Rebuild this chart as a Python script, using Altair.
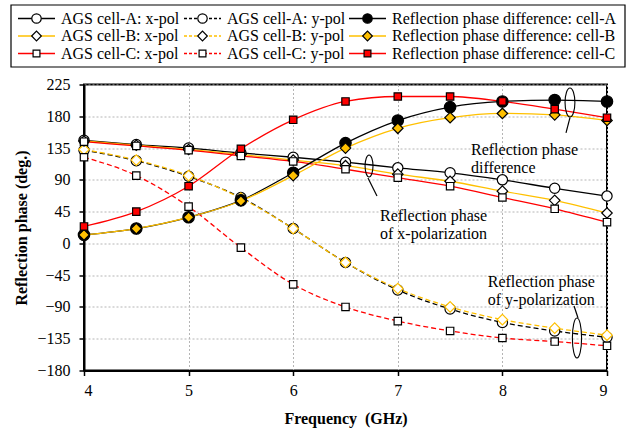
import altair as alt
import pandas as pd

FONT = "'Liberation Serif', 'Times New Roman', 'DejaVu Serif', serif"

# ---------------- data ----------------
freq = [4, 4.5, 5, 5.5, 6, 6.5, 7, 7.5, 8, 8.5, 9]

a_x = [146, 140, 135, 128, 122, 115, 107, 100, 90, 78, 67]
b_x = [145, 139, 133, 126, 118, 110, 98, 88, 74, 61, 43]
c_x = [144, 138, 132, 124, 116, 105, 93, 81, 65, 49, 30]

a_y = [132, 117, 95, 65, 21, -27, -66, -93, -112, -124, -133]
b_y = [133, 118, 96, 64, 21, -27, -64, -90, -108, -120, -130]
c_y = [122, 96, 52, -6, -58, -90, -110, -124, -134, -139, -145]

d_a = [12, 21, 37, 61, 100, 142, 174, 193, 201, 203, 201]
d_b = [12, 21, 37, 60, 96, 135, 163, 178, 184, 182, 174]
d_c = [24, 45, 81, 134, 175, 201, 208, 208, 201, 190, 178]

labels = [
    "AGS cell-A: x-pol", "AGS cell-A: y-pol", "Reflection phase difference: cell-A",
    "AGS cell-B: x-pol", "AGS cell-B: y-pol", "Reflection phase difference: cell-B",
    "AGS cell-C: x-pol", "AGS cell-C: y-pol", "Reflection phase difference: cell-C",
]
values = [a_x, a_y, d_a, b_x, b_y, d_b, c_x, c_y, d_c]

ORANGE = "#FFC000"
RED = "#FF0000"
line_colors = ["black", "black", "black", ORANGE, ORANGE, ORANGE, RED, RED, RED]
dashed = [False, True, False, False, True, False, False, True, False]
shapes = ["circle", "circle", "circle", "diamond", "diamond", "diamond", "square", "square", "square"]
fills = ["white", "white", "black", "white", "white", ORANGE, "white", "white", RED]
strokes = ["black", "black", "black", "black", ORANGE, "black", "black", "black", "black"]
legend_strokes = ["black"] * 9
sizes = {"circle": 105, "diamond": 110, "square": 55}

# annotations
ann_text = ["Reflection phase\ndifference", "Reflection phase\nof x-polarization", "Reflection phase\nof y-polarization"]
ann_tx = [7.70, 6.83, 7.86]
ann_ty = [132, 39, -55]

ell_x = [8.646, 6.725, 8.713]
ell_y = [199.5, 109.6, -134]
ell_h = [29, 22, 40]
ell_ratio = [0.34, 0.36, 0.23]

lead_x = [8.646, 6.715, 8.723]
lead_y = [178, 92.6, -105.7]
lead_x2 = [8.608, 6.801, 8.685]
lead_y2 = [156.4, 67.1, -88.7]

# ---------------- scales ----------------
W, H = 523, 286
xscale = alt.Scale(domain=[4, 9], nice=False, zero=False)
yscale = alt.Scale(domain=[-180, 225], nice=False, zero=False)

x_axis = alt.Axis(values=[4, 5, 6, 7, 8, 9], title="Frequency\u00a0\u00a0(GHz)", titlePadding=12,
                  labelPadding=7)
y_axis = alt.Axis(values=list(range(-180, 226, 45)), title="Reflection phase (deg.)",
                  titlePadding=7, labelPadding=9)


def X(field):
    return alt.X(field, scale=xscale, axis=x_axis)


def Y(field):
    return alt.Y(field, scale=yscale, axis=y_axis)


layers = []
order = [1, 4, 7, 0, 3, 6, 2, 5, 8]  # dashed first, then solid
for i in order:
    df = pd.DataFrame({"freq": freq, "deg": values[i]})
    mk = dict(color=line_colors[i], strokeWidth=1.3, interpolate="monotone")
    if dashed[i]:
        mk["strokeDash"] = [5, 3]
    layers.append(alt.Chart(df).mark_line(**mk).encode(x=X("freq:Q"), y=Y("deg:Q")))

for i in order:
    df = pd.DataFrame({"freq": freq, "deg": values[i]})
    sz = sizes[shapes[i]] + (25 if fills[i] == "black" else 0)
    layers.append(
        alt.Chart(df).mark_point(
            shape=shapes[i], filled=True, fill=fills[i], stroke=strokes[i],
            strokeWidth=1.2, size=sz, opacity=1,
        ).encode(x=X("freq:Q"), y=Y("deg:Q"))
    )


# annotation ellipses
def ellipse_path(r):
    k = 0.5523 * r
    return (f"M0,-1 C{k:.3f},-1 {r:.3f},-0.5523 {r:.3f},0 "
            f"C{r:.3f},0.5523 {k:.3f},1 0,1 "
            f"C{-k:.3f},1 {-r:.3f},0.5523 {-r:.3f},0 "
            f"C{-r:.3f},-0.5523 {-k:.3f},-1 0,-1 Z")


ell_df = pd.DataFrame({
    "freq": ell_x, "deg": ell_y,
    "path": [ellipse_path(r) for r in ell_ratio],
    "size": [h * h for h in ell_h],
})
layers.append(
    alt.Chart(ell_df).mark_point(filled=False, stroke="black", strokeWidth=1.1, opacity=1).encode(
        x=X("freq:Q"), y=Y("deg:Q"),
        shape=alt.Shape("path:N", scale=None), size=alt.Size("size:Q", scale=None),
    )
)
lead_df = pd.DataFrame({"freq": lead_x, "deg": lead_y, "freq2": lead_x2, "deg2": lead_y2})
layers.append(
    alt.Chart(lead_df).mark_rule(color="black", strokeWidth=1.2).encode(
        x=X("freq:Q"), y=Y("deg:Q"), x2="freq2:Q", y2="deg2:Q",
    )
)
ann_df = pd.DataFrame({"freq": ann_tx, "deg": ann_ty, "t": ann_text})
layers.append(
    alt.Chart(ann_df).mark_text(align="left", baseline="middle", font=FONT, fontSize=16,
                                lineBreak="\n", lineHeight=18, color="black").encode(
        x=X("freq:Q"), y=Y("deg:Q"), text="t:N",
    )
)

# ---------------- legend (layout in pixels relative to plot origin) ----------------
one = pd.DataFrame({"k": [0]})
box = dict(left=-73, right=541, top=-79.5, bottom=-17.5)
layers.append(
    alt.Chart(one).mark_rect(fill="white", stroke="black", strokeWidth=1.2).encode(
        x=alt.value(box["left"]), x2=alt.value(box["right"]),
        y=alt.value(box["top"]), y2=alt.value(box["bottom"]),
    )
)
col_x0 = [-66, 100, 265]
sym_len = 37
text_gap = 6
row_y = [-66, -48.5, -31]
for i, lab in enumerate(labels):
    r, c = divmod(i, 3)
    x0 = col_x0[c]
    yy = row_y[r]
    mk = dict(color=line_colors[i], strokeWidth=1.5)
    if dashed[i]:
        mk["strokeDash"] = [3, 2]
    layers.append(alt.Chart(one).mark_rule(**mk).encode(
        x=alt.value(x0), x2=alt.value(x0 + sym_len), y=alt.value(yy)))
    layers.append(alt.Chart(one).mark_point(
        shape=shapes[i], filled=True, fill=fills[i], stroke=legend_strokes[i],
        strokeWidth=1.2, size=sizes[shapes[i]] * 0.85, opacity=1,
    ).encode(x=alt.value(x0 + sym_len / 2), y=alt.value(yy)))
    layers.append(alt.Chart(one).mark_text(
        text=lab, align="left", baseline="middle", font=FONT, fontSize=16, color="black",
    ).encode(x=alt.value(x0 + sym_len + text_gap), y=alt.value(yy)))

chart = alt.layer(*layers).properties(
    width=W, height=H,
    autosize=alt.AutoSizeParams(type="none"),
    padding={"left": 84, "top": 84.5, "right": 26, "bottom": 58.5},
    background="white",
).configure_view(
    stroke="black", strokeWidth=2,
).configure_axis(
    labelFont=FONT, labelFontSize=16, labelColor="black",
    titleFont=FONT, titleFontSize=16, titleFontWeight="bold", titleColor="black",
    domainColor="black", domainWidth=2, tickColor="black", tickWidth=1.5, tickSize=5,
    gridColor="#b5b5b5", gridDash=[2, 2], gridWidth=1,
)

chart.save("out.html", embed_options={"renderer": "svg", "actions": False})
